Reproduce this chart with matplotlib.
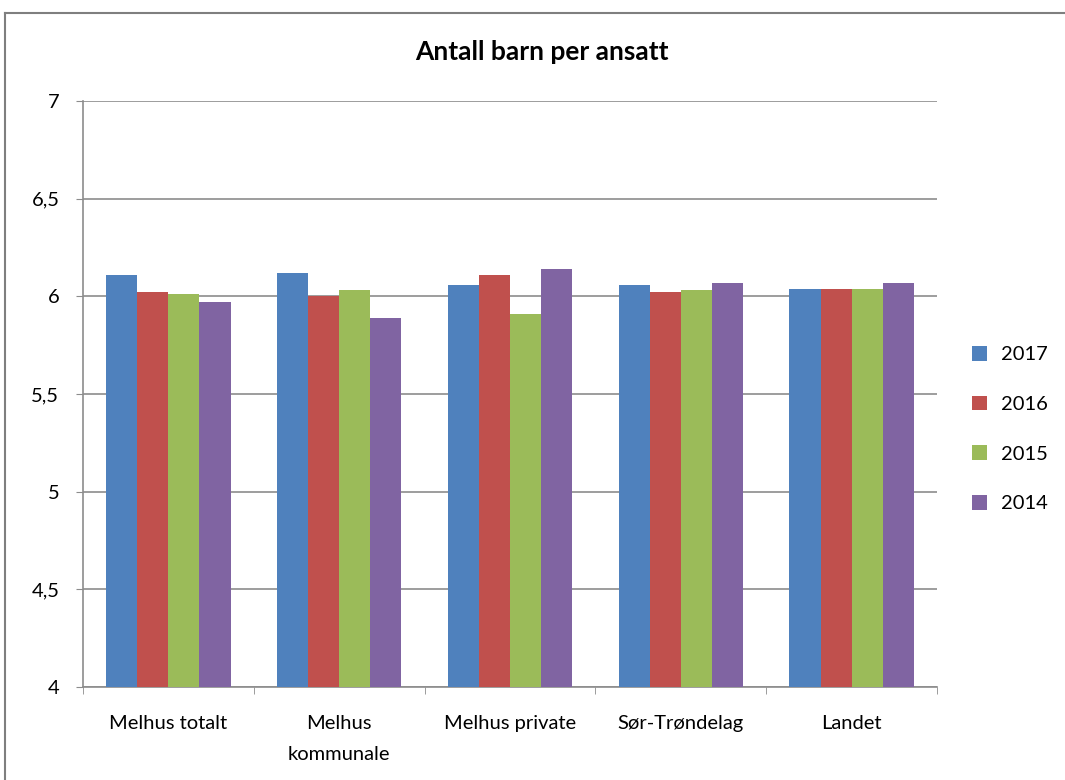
import matplotlib

matplotlib.use("Agg")
import matplotlib.pyplot as plt
import numpy as np
from matplotlib.lines import Line2D
from matplotlib.ticker import FuncFormatter

plt.rcParams["font.family"] = ["Lato", "DejaVu Sans"]

# ── data ────────────────────────────────────────────────────────────────
categories = ["Melhus totalt", "Melhus\nkommunale", "Melhus private", "Sør-Trøndelag", "Landet"]
years = ["2017", "2016", "2015", "2014"]
v2017 = [6.11, 6.12, 6.06, 6.06, 6.04]
v2016 = [6.02, 6.00, 6.11, 6.02, 6.04]
v2015 = [6.01, 6.03, 5.91, 6.03, 6.04]
v2014 = [5.97, 5.89, 6.14, 6.07, 6.07]
colors = ["#4F81BD", "#C0504D", "#9BBB59", "#8064A2"]

series = [v2017, v2016, v2015, v2014]

# ── plot ────────────────────────────────────────────────────────────────
fig = plt.figure(figsize=(10.65, 7.8), dpi=100)
ax = fig.add_axes([83 / 1065, 1 - 687 / 780, (937 - 83) / 1065, (687 - 101) / 780])

x = np.arange(len(categories))
w = 0.182
for i, (vals, c, lab) in enumerate(zip(series, colors, years)):
    ax.bar(x + (i - 1.5) * w, np.array(vals) - 4, w, bottom=4, color=c, label=lab, zorder=3)

ax.set_xlim(-0.5, len(categories) - 0.5)
ax.set_ylim(4, 7)
ax.set_yticks(np.arange(4, 7.01, 0.5))
ax.yaxis.set_major_formatter(FuncFormatter(lambda v, _: f"{v:g}".replace(".", ",")))
ax.yaxis.grid(True, color="#8c8c8c", lw=1.2, zorder=0)
ax.set_xticks(x)
ax.set_xticklabels(categories, fontsize=14.5, linespacing=2.0)
ax.set_xticks(np.arange(-0.5, len(categories)), minor=True)
ax.tick_params(axis="x", which="major", length=0, pad=20)
ax.tick_params(axis="x", which="minor", length=5, color="#8c8c8c")
ax.tick_params(axis="y", length=5, color="#8c8c8c", labelsize=14.5, pad=12)

for side in ["top", "right"]:
    ax.spines[side].set_visible(False)
for side in ["left", "bottom"]:
    ax.spines[side].set_color("#8c8c8c")
    ax.spines[side].set_linewidth(1.2)

fig.text(542 / 1065, 1 - 52 / 780, "Antall barn per ansatt",
         ha="center", va="center", fontsize=19, fontweight="bold")

ax.legend(loc="center left", bbox_to_anchor=(1.02, 0.44), frameon=False,
          fontsize=14.5, handlelength=0.75, handleheight=0.75, handletextpad=0.7,
          labelspacing=1.6)

# chart area border (cut off on right and bottom)
fig.add_artist(Line2D([5 / 1065, 5 / 1065], [0, 1 - 13 / 780], color="#7f7f7f", lw=1.5))
fig.add_artist(Line2D([5 / 1065, 1], [1 - 13 / 780, 1 - 13 / 780], color="#7f7f7f", lw=1.5))

fig.savefig("out.png", dpi=100)
